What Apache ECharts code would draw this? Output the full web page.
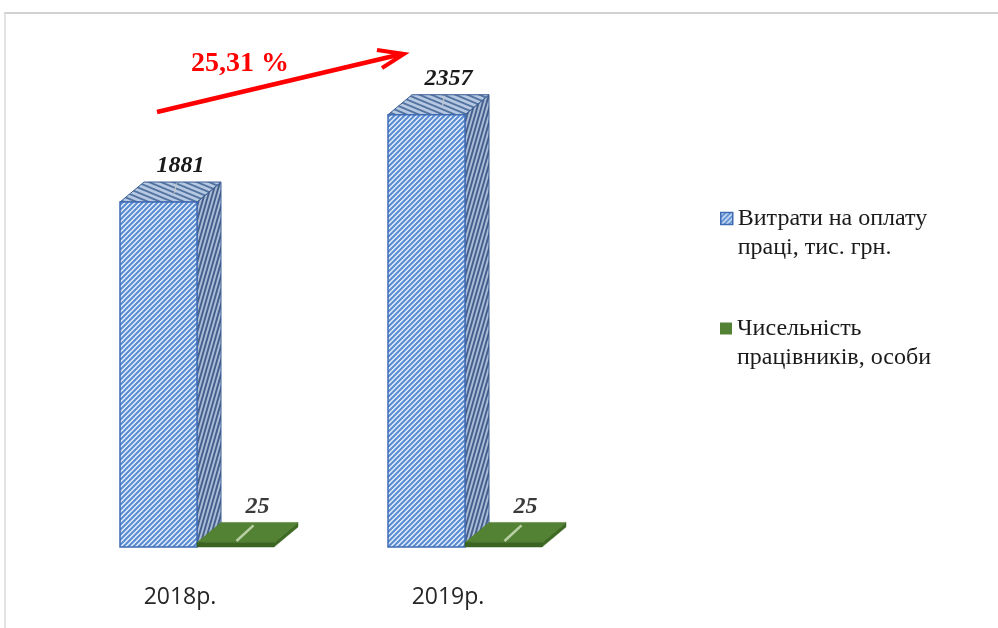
<!DOCTYPE html>
<html>
<head>
<meta charset="utf-8">
<script src="https://cdn.jsdelivr.net/npm/echarts@6/dist/echarts.min.js"></script>
<style>
html,body{margin:0;padding:0;background:#fff;}
#main{width:998px;height:628px;}
</style>
</head>
<body>
<div id="main"></div>
<script>
// ---- data ----
const categories = ['2018р.', '2019р.'];
const wageCosts = [1881, 2357];      // Витрати на оплату праці, тис. грн.
const headcount = [25, 25];          // Чисельність працівників, особи
const seriesNames = ['Витрати на оплату\nпраці, тис. грн.', 'Чисельність\nпрацівників, особи'];

// ---- patterns ----
function stripeCanvas(w, h, bg, fg, lw, dir) {
  const c = document.createElement('canvas');
  c.width = w; c.height = h;
  const ctx = c.getContext('2d');
  ctx.fillStyle = bg; ctx.fillRect(0, 0, w, h);
  ctx.strokeStyle = fg; ctx.lineWidth = lw;
  ctx.beginPath();
  if (dir === '/') {
    ctx.moveTo(0, h); ctx.lineTo(w, 0);
    ctx.moveTo(-w, h); ctx.lineTo(w, -h);
    ctx.moveTo(0, 2 * h); ctx.lineTo(2 * w, 0);
  } else {
    ctx.moveTo(0, 0); ctx.lineTo(w, h);
    ctx.moveTo(-w, -h); ctx.lineTo(w, h);
    ctx.moveTo(-w, 0); ctx.lineTo(w, 2 * h);
    ctx.moveTo(0, -h); ctx.lineTo(2 * w, h);
  }
  ctx.stroke();
  return c;
}
const frontPat = { image: stripeCanvas(5, 5, '#e6f0fb', '#5a8cd2', 2.1, '/'), repeat: 'repeat' };
const sidePat = { image: stripeCanvas(4, 14, '#aabcd6', '#445f8c', 1.9, '/'), repeat: 'repeat' };
const topPat = { image: stripeCanvas(12, 5, '#b7c9e2', '#5373a0', 1.9, '\\'), repeat: 'repeat' };
const legendPat = { image: stripeCanvas(5, 5, '#e6f0fb', '#5a8cd2', 2.1, '/'), repeat: 'repeat' };

const DX = 24, DY = 20;

function renderBar(params, api) {
  const si = params.seriesIndex;
  const idx = api.value(0), val = api.value(1);
  const base = api.coord([idx, 0]);
  const top = api.coord([idx, val]);
  const catW = api.size([1, 0])[0];
  const bw = catW * 77 / 268;
  const left = si === 0 ? base[0] - bw : base[0];
  const right = left + bw;
  const yT = top[1], yB = base[1];
  const children = [];
  const isBlue = si === 0;
  children.push({
    type: 'polygon',
    shape: { points: [[right, yT], [right + DX, yT - DY], [right + DX, yB - DY], [right, yB]] },
    style: isBlue ? { fill: sidePat, stroke: '#3a5d93', lineWidth: 1 } : { fill: '#3f6a24', stroke: '#3f6a24', lineWidth: 0.5 }
  });
  children.push({
    type: 'polygon',
    shape: { points: [[left, yT], [left + DX, yT - DY], [right + DX, yT - DY], [right, yT]] },
    style: isBlue ? { fill: topPat, stroke: '#3a5d93', lineWidth: 1 } : { fill: '#548235', stroke: '#4c7a2e', lineWidth: 0.5 }
  });
  children.push({
    type: 'rect',
    shape: { x: left, y: yT, width: bw, height: yB - yT },
    style: isBlue ? { fill: frontPat, stroke: '#3f6bb5', lineWidth: 1.5 } : { fill: '#3b6321', stroke: '#3b6321', lineWidth: 0.5 }
  });
  // faint leader line
  const cx = left + bw / 2;
  children.push({
    type: 'line',
    shape: isBlue ? { x1: cx + 18, y1: yT - DY + 1, x2: cx + 16, y2: yT - 9 }
                  : { x1: cx + 1, y1: yB - 6, x2: cx + 18, y2: yT - DY + 3 },
    style: { stroke: isBlue ? 'rgba(200,200,200,0.8)' : '#b9cfa4', lineWidth: isBlue ? 1.5 : 2.5 }
  });
  children.push({
    type: 'text',
    style: {
      text: String(val),
      x: cx + 22, y: yT - 36,
      align: 'center', verticalAlign: 'middle',
      font: 'italic bold 24px "Liberation Serif", "Times New Roman", serif',
      fill: isBlue ? '#1a1a1a' : '#3a3a3a'
    }
  });
  return { type: 'group', children: children };
}

const pct = ((wageCosts[1] / wageCosts[0] - 1) * 100).toFixed(2).replace('.', ',') + ' %';

const legendText = { fontFamily: '"Liberation Serif", "Times New Roman", serif', fontSize: 24, lineHeight: 29, color: '#1a1a1a' };

const chart = echarts.init(document.getElementById('main'), null, { renderer: 'canvas' });
chart.setOption({
  animation: false,
  backgroundColor: '#ffffff',
  grid: { left: 63, right: 399, top: 88.5, bottom: 81 },
  xAxis: {
    type: 'category',
    data: categories,
    axisLine: { show: false },
    axisTick: { show: false },
    axisLabel: {
      margin: 39,
      padding: [0, 34, 0, 0],
      fontFamily: '"Open Sans", "Noto Sans", sans-serif',
      fontSize: 23,
      color: '#262626'
    }
  },
  yAxis: {
    type: 'value', min: 0, max: 2500,
    show: false,
    splitLine: { show: false }
  },
  legend: [
    {
      orient: 'vertical', left: 715, top: 170,
      itemWidth: 12, itemHeight: 12,
      selectedMode: false,
      formatter: n => '\n' + n,
      data: [{ name: seriesNames[0], icon: 'rect', itemStyle: { color: legendPat, borderColor: '#3f6bb5', borderWidth: 1.5 } }],
      textStyle: legendText
    },
    {
      orient: 'vertical', left: 715, top: 280,
      itemWidth: 12, itemHeight: 12,
      selectedMode: false,
      formatter: n => '\n' + n,
      data: [{ name: seriesNames[1], icon: 'rect', itemStyle: { color: '#548235', borderWidth: 0 } }],
      textStyle: legendText
    }
  ],
  series: [
    {
      name: seriesNames[0], type: 'custom', renderItem: renderBar,
      itemStyle: { color: '#5a8cd2' },
      data: wageCosts.map((v, i) => [i, v])
    },
    {
      name: seriesNames[1], type: 'custom', renderItem: renderBar,
      itemStyle: { color: '#548235' },
      data: headcount.map((v, i) => [i, v])
    }
  ],
  graphic: [
    { type: 'line', shape: { x1: 4, y1: 13, x2: 998, y2: 13 }, style: { stroke: '#d2d2d2', lineWidth: 2 } },
    { type: 'line', shape: { x1: 5, y1: 12, x2: 5, y2: 628 }, style: { stroke: '#dadada', lineWidth: 1.5 } },
    { type: 'line', shape: { x1: 157, y1: 112, x2: 402, y2: 54 }, style: { stroke: '#ff0000', lineWidth: 4.5, lineCap: 'butt' } },
    { type: 'polyline', shape: { points: [[377, 50], [404, 54], [382, 68]] }, style: { stroke: '#ff0000', lineWidth: 4, fill: null, lineJoin: 'miter' } },
    { type: 'text', style: { text: pct, x: 240, y: 64, align: 'center', verticalAlign: 'middle', font: 'bold 28px "Liberation Serif", "Times New Roman", serif', fill: '#ff0000' } }
  ]
});
</script>
</body>
</html>
